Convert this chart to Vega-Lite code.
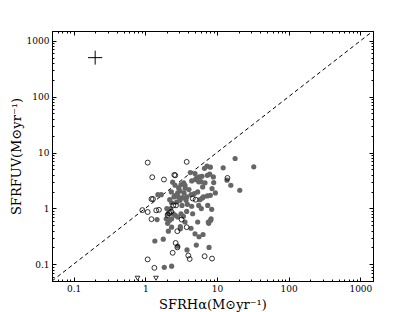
{
  "$schema": "https://vega.github.io/schema/vega-lite/v6.json",
  "width": 321,
  "height": 250,
  "autosize": "none",
  "padding": {"left": 52, "top": 31, "right": 42, "bottom": 31},
  "background": "white",
  "config": {
    "view": {"stroke": "black", "strokeWidth": 1},
    "font": "DejaVu Serif",
    "axis": {
      "grid": false,
      "domainColor": "black",
      "tickColor": "black",
      "labelColor": "black",
      "titleColor": "black",
      "labelFont": "DejaVu Serif",
      "titleFont": "DejaVu Serif",
      "labelFontSize": 9,
      "titleFontSize": 13,
      "titleFontWeight": "normal"
    }
  },
  "datasets": {
    "pts": [
      {"t": "filled", "x": 17.9, "y": 7.82}, {"t": "filled", "x": 32.6, "y": 5.54}, {"t": "filled", "x": 12.2, "y": 5.31},
      {"t": "filled", "x": 7.26, "y": 5.69}, {"t": "filled", "x": 8.09, "y": 5.46}, {"t": "filled", "x": 4.25, "y": 4.38},
      {"t": "filled", "x": 6.18, "y": 3.76}, {"t": "filled", "x": 7.92, "y": 4.09}, {"t": "filled", "x": 13.8, "y": 3.19},
      {"t": "filled", "x": 15.6, "y": 2.59}, {"t": "filled", "x": 20.8, "y": 2.11}, {"t": "filled", "x": 9.5, "y": 1.89},
      {"t": "filled", "x": 8.53, "y": 2.26}, {"t": "filled", "x": 8.09, "y": 1.71}, {"t": "filled", "x": 7.34, "y": 1.67},
      {"t": "filled", "x": 6.32, "y": 2.42}, {"t": "filled", "x": 5.56, "y": 2.98}, {"t": "filled", "x": 4.99, "y": 3.28},
      {"t": "filled", "x": 5.68, "y": 3.66}, {"t": "filled", "x": 6.81, "y": 2.86}, {"t": "filled", "x": 5.38, "y": 1.97},
      {"t": "filled", "x": 4.83, "y": 1.84}, {"t": "filled", "x": 4.34, "y": 1.76}, {"t": "filled", "x": 3.78, "y": 1.6},
      {"t": "filled", "x": 4.07, "y": 2.17}, {"t": "filled", "x": 3.43, "y": 2.86}, {"t": "filled", "x": 3.15, "y": 2.67},
      {"t": "filled", "x": 2.92, "y": 2.32}, {"t": "filled", "x": 2.83, "y": 1.89}, {"t": "filled", "x": 2.6, "y": 2.59},
      {"t": "filled", "x": 2.51, "y": 1.6}, {"t": "filled", "x": 2.31, "y": 1.97}, {"t": "filled", "x": 2.41, "y": 2.94},
      {"t": "filled", "x": 3.47, "y": 1.89}, {"t": "filled", "x": 3.32, "y": 1.56}, {"t": "filled", "x": 3.05, "y": 1.39},
      {"t": "filled", "x": 2.74, "y": 1.3}, {"t": "filled", "x": 2.33, "y": 1.26}, {"t": "filled", "x": 2.19, "y": 1.43},
      {"t": "filled", "x": 1.67, "y": 1.76}, {"t": "filled", "x": 1.5, "y": 1.76}, {"t": "filled", "x": 3.86, "y": 1.18},
      {"t": "filled", "x": 3.25, "y": 1.13}, {"t": "filled", "x": 4.44, "y": 1.09}, {"t": "filled", "x": 5.56, "y": 1.13},
      {"t": "filled", "x": 6.05, "y": 0.99}, {"t": "filled", "x": 8.44, "y": 0.96}, {"t": "filled", "x": 7.43, "y": 1.13},
      {"t": "filled", "x": 3.7, "y": 1.39}, {"t": "filled", "x": 4.58, "y": 0.8}, {"t": "filled", "x": 3.15, "y": 0.8},
      {"t": "filled", "x": 3.4, "y": 0.72}, {"t": "filled", "x": 3.58, "y": 0.57}, {"t": "filled", "x": 4.34, "y": 0.44},
      {"t": "filled", "x": 5.38, "y": 0.57}, {"t": "filled", "x": 8.17, "y": 0.61}, {"t": "filled", "x": 7.67, "y": 0.54},
      {"t": "filled", "x": 6.39, "y": 0.34}, {"t": "filled", "x": 5.62, "y": 0.31}, {"t": "filled", "x": 4.94, "y": 0.35},
      {"t": "filled", "x": 3.08, "y": 0.43}, {"t": "filled", "x": 3.08, "y": 0.47}, {"t": "filled", "x": 2.83, "y": 0.7},
      {"t": "filled", "x": 2.62, "y": 0.75}, {"t": "filled", "x": 2.33, "y": 0.65}, {"t": "filled", "x": 2.19, "y": 0.61},
      {"t": "filled", "x": 2.05, "y": 0.54}, {"t": "filled", "x": 2.46, "y": 0.8}, {"t": "filled", "x": 2.26, "y": 0.99},
      {"t": "filled", "x": 2.07, "y": 0.8}, {"t": "filled", "x": 1.96, "y": 0.65}, {"t": "filled", "x": 2.1, "y": 0.39},
      {"t": "filled", "x": 2.33, "y": 0.46}, {"t": "filled", "x": 1.46, "y": 0.63}, {"t": "filled", "x": 1.36, "y": 0.26},
      {"t": "filled", "x": 1.78, "y": 0.28}, {"t": "filled", "x": 2.83, "y": 0.21}, {"t": "filled", "x": 3.82, "y": 0.18},
      {"t": "filled", "x": 5.15, "y": 0.22}, {"t": "filled", "x": 7.75, "y": 0.2}, {"t": "filled", "x": 1.84, "y": 0.088},
      {"t": "filled", "x": 2.33, "y": 0.092}, {"t": "filled", "x": 6.25, "y": 1.53}, {"t": "filled", "x": 5.8, "y": 1.43},
      {"t": "filled", "x": 6.7, "y": 5.2}, {"t": "filled", "x": 7.34, "y": 3.9}, {"t": "filled", "x": 8.9, "y": 3.66},
      {"t": "filled", "x": 4.44, "y": 3.1}, {"t": "filled", "x": 4.94, "y": 4.2}, {"t": "filled", "x": 2.0, "y": 0.99},
      {"t": "filled", "x": 3.05, "y": 2.05}, {"t": "filled", "x": 3.58, "y": 2.59}, {"t": "filled", "x": 3.78, "y": 0.88},
      {"t": "filled", "x": 6.45, "y": 1.6}, {"t": "filled", "x": 2.6, "y": 1.7}, {"t": "filled", "x": 2.9, "y": 1.6},
      {"t": "filled", "x": 3.6, "y": 2.3}, {"t": "filled", "x": 9.0, "y": 2.9}, {"t": "filled", "x": 5.2, "y": 3.5},
      {"t": "filled", "x": 6.0, "y": 3.0}, {"t": "filled", "x": 8.27, "y": 0.65}, {"t": "filled", "x": 7.56, "y": 0.57},
      {"t": "open", "x": 1.08, "y": 6.6}, {"t": "open", "x": 3.78, "y": 6.8}, {"t": "open", "x": 1.25, "y": 3.61},
      {"t": "open", "x": 1.82, "y": 3.28}, {"t": "open", "x": 2.54, "y": 3.97}, {"t": "open", "x": 2.62, "y": 3.9},
      {"t": "open", "x": 14.0, "y": 3.5}, {"t": "open", "x": 1.22, "y": 1.47}, {"t": "open", "x": 1.28, "y": 1.47},
      {"t": "open", "x": 5.04, "y": 1.43}, {"t": "open", "x": 0.91, "y": 0.93}, {"t": "open", "x": 1.08, "y": 0.86},
      {"t": "open", "x": 1.42, "y": 0.92}, {"t": "open", "x": 1.55, "y": 0.94}, {"t": "open", "x": 1.22, "y": 0.64},
      {"t": "open", "x": 2.16, "y": 0.82}, {"t": "open", "x": 2.05, "y": 0.76}, {"t": "open", "x": 2.3, "y": 0.87},
      {"t": "open", "x": 2.46, "y": 1.13}, {"t": "open", "x": 2.68, "y": 1.13}, {"t": "open", "x": 3.21, "y": 0.63},
      {"t": "open", "x": 3.78, "y": 0.46}, {"t": "open", "x": 2.8, "y": 0.39}, {"t": "open", "x": 2.65, "y": 0.24},
      {"t": "open", "x": 2.8, "y": 0.2}, {"t": "open", "x": 2.41, "y": 0.16}, {"t": "open", "x": 3.98, "y": 0.143},
      {"t": "open", "x": 4.16, "y": 0.124}, {"t": "open", "x": 6.73, "y": 0.139}, {"t": "open", "x": 8.53, "y": 0.126},
      {"t": "open", "x": 1.08, "y": 0.122}, {"t": "open", "x": 1.34, "y": 0.086}, {"t": "open", "x": 4.6, "y": 1.5},
      {"t": "limit", "x": 0.78, "y": 0.056}, {"t": "limit", "x": 1.41, "y": 0.056}
    ]
  },
  "layer": [
    {
      "data": {"values": [{"x": 0.05, "y": 0.05}, {"x": 1500, "y": 1500}]},
      "mark": {"type": "line", "color": "black", "strokeWidth": 1, "strokeDash": [4, 3]},
      "encoding": {
        "x": {"field": "x", "type": "quantitative",
          "scale": {"type": "log", "domain": [0.05, 1500], "nice": false},
          "title": "SFRHα(M⊙yr⁻¹)",
          "axis": {
            "values": [0.06,0.07,0.08,0.09,0.1,0.2,0.3,0.4,0.5,0.6,0.7,0.8,0.9,1,2,3,4,5,6,7,8,9,10,20,30,40,50,60,70,80,90,100,200,300,400,500,600,700,800,900,1000],
            "labelExpr": "abs(log(datum.value)/LN10 - round(log(datum.value)/LN10)) < 0.001 ? format(datum.value, '~g') : ''",
            "tickSize": {"condition": {"test": "abs(log(datum.value)/LN10 - round(log(datum.value)/LN10)) < 0.001", "value": -4}, "value": -2},
            "labelPadding": 7,
            "titlePadding": 3,
            "labelFlush": false,
            "labelOverlap": false
          }
        },
        "y": {"field": "y", "type": "quantitative",
          "scale": {"type": "log", "domain": [0.05, 1500], "nice": false},
          "title": "SFRFUV(M⊙yr⁻¹)",
          "axis": {
            "values": [0.06,0.07,0.08,0.09,0.1,0.2,0.3,0.4,0.5,0.6,0.7,0.8,0.9,1,2,3,4,5,6,7,8,9,10,20,30,40,50,60,70,80,90,100,200,300,400,500,600,700,800,900,1000],
            "labelExpr": "abs(log(datum.value)/LN10 - round(log(datum.value)/LN10)) < 0.001 ? format(datum.value, '~g') : ''",
            "tickSize": {"condition": {"test": "abs(log(datum.value)/LN10 - round(log(datum.value)/LN10)) < 0.001", "value": -4}, "value": -2},
            "labelPadding": 7,
            "titlePadding": 3,
            "labelFlush": false,
            "labelOverlap": false
          }
        }
      }
    },
    {
      "data": {"name": "pts"},
      "transform": [{"filter": "datum.t === 'filled'"}],
      "mark": {"type": "point", "shape": "circle", "filled": true, "color": "#666666", "size": 27, "opacity": 1},
      "encoding": {
        "x": {"field": "x", "type": "quantitative",
          "axis": {
            "orient": "top",
            "values": [0.06,0.07,0.08,0.09,0.1,0.2,0.3,0.4,0.5,0.6,0.7,0.8,0.9,1,2,3,4,5,6,7,8,9,10,20,30,40,50,60,70,80,90,100,200,300,400,500,600,700,800,900,1000],
            "labels": false, "title": null,
            "tickSize": {"condition": {"test": "abs(log(datum.value)/LN10 - round(log(datum.value)/LN10)) < 0.001", "value": -4}, "value": -2}
          }
        },
        "y": {"field": "y", "type": "quantitative",
          "axis": {
            "orient": "right",
            "values": [0.06,0.07,0.08,0.09,0.1,0.2,0.3,0.4,0.5,0.6,0.7,0.8,0.9,1,2,3,4,5,6,7,8,9,10,20,30,40,50,60,70,80,90,100,200,300,400,500,600,700,800,900,1000],
            "labels": false, "title": null,
            "tickSize": {"condition": {"test": "abs(log(datum.value)/LN10 - round(log(datum.value)/LN10)) < 0.001", "value": -4}, "value": -2}
          }
        }
      }
    },
    {
      "data": {"name": "pts"},
      "transform": [{"filter": "datum.t === 'open'"}],
      "mark": {"type": "point", "shape": "circle", "filled": false, "color": "black", "strokeWidth": 0.8, "size": 24, "opacity": 1},
      "encoding": {
        "x": {"field": "x", "type": "quantitative", "axis": null},
        "y": {"field": "y", "type": "quantitative", "axis": null}
      }
    },
    {
      "data": {"name": "pts"},
      "transform": [{"filter": "datum.t === 'limit'"}],
      "mark": {"type": "point", "shape": "triangle-down", "filled": false, "color": "black", "strokeWidth": 0.8, "size": 22, "opacity": 1},
      "encoding": {
        "x": {"field": "x", "type": "quantitative", "axis": null},
        "y": {"field": "y", "type": "quantitative", "axis": null}
      }
    },
    {
      "data": {"values": [{"x": 0.159, "x2": 0.251, "y": 500}]},
      "mark": {"type": "rule", "color": "black", "strokeWidth": 1},
      "encoding": {
        "x": {"field": "x", "type": "quantitative", "axis": null},
        "x2": {"field": "x2"},
        "y": {"field": "y", "type": "quantitative", "axis": null}
      }
    },
    {
      "data": {"values": [{"x": 0.2, "y": 375, "y2": 667}]},
      "mark": {"type": "rule", "color": "black", "strokeWidth": 1},
      "encoding": {
        "x": {"field": "x", "type": "quantitative", "axis": null},
        "y": {"field": "y", "type": "quantitative", "axis": null},
        "y2": {"field": "y2"}
      }
    }
  ],
  "resolve": {"axis": {"x": "independent", "y": "independent"}}
}
